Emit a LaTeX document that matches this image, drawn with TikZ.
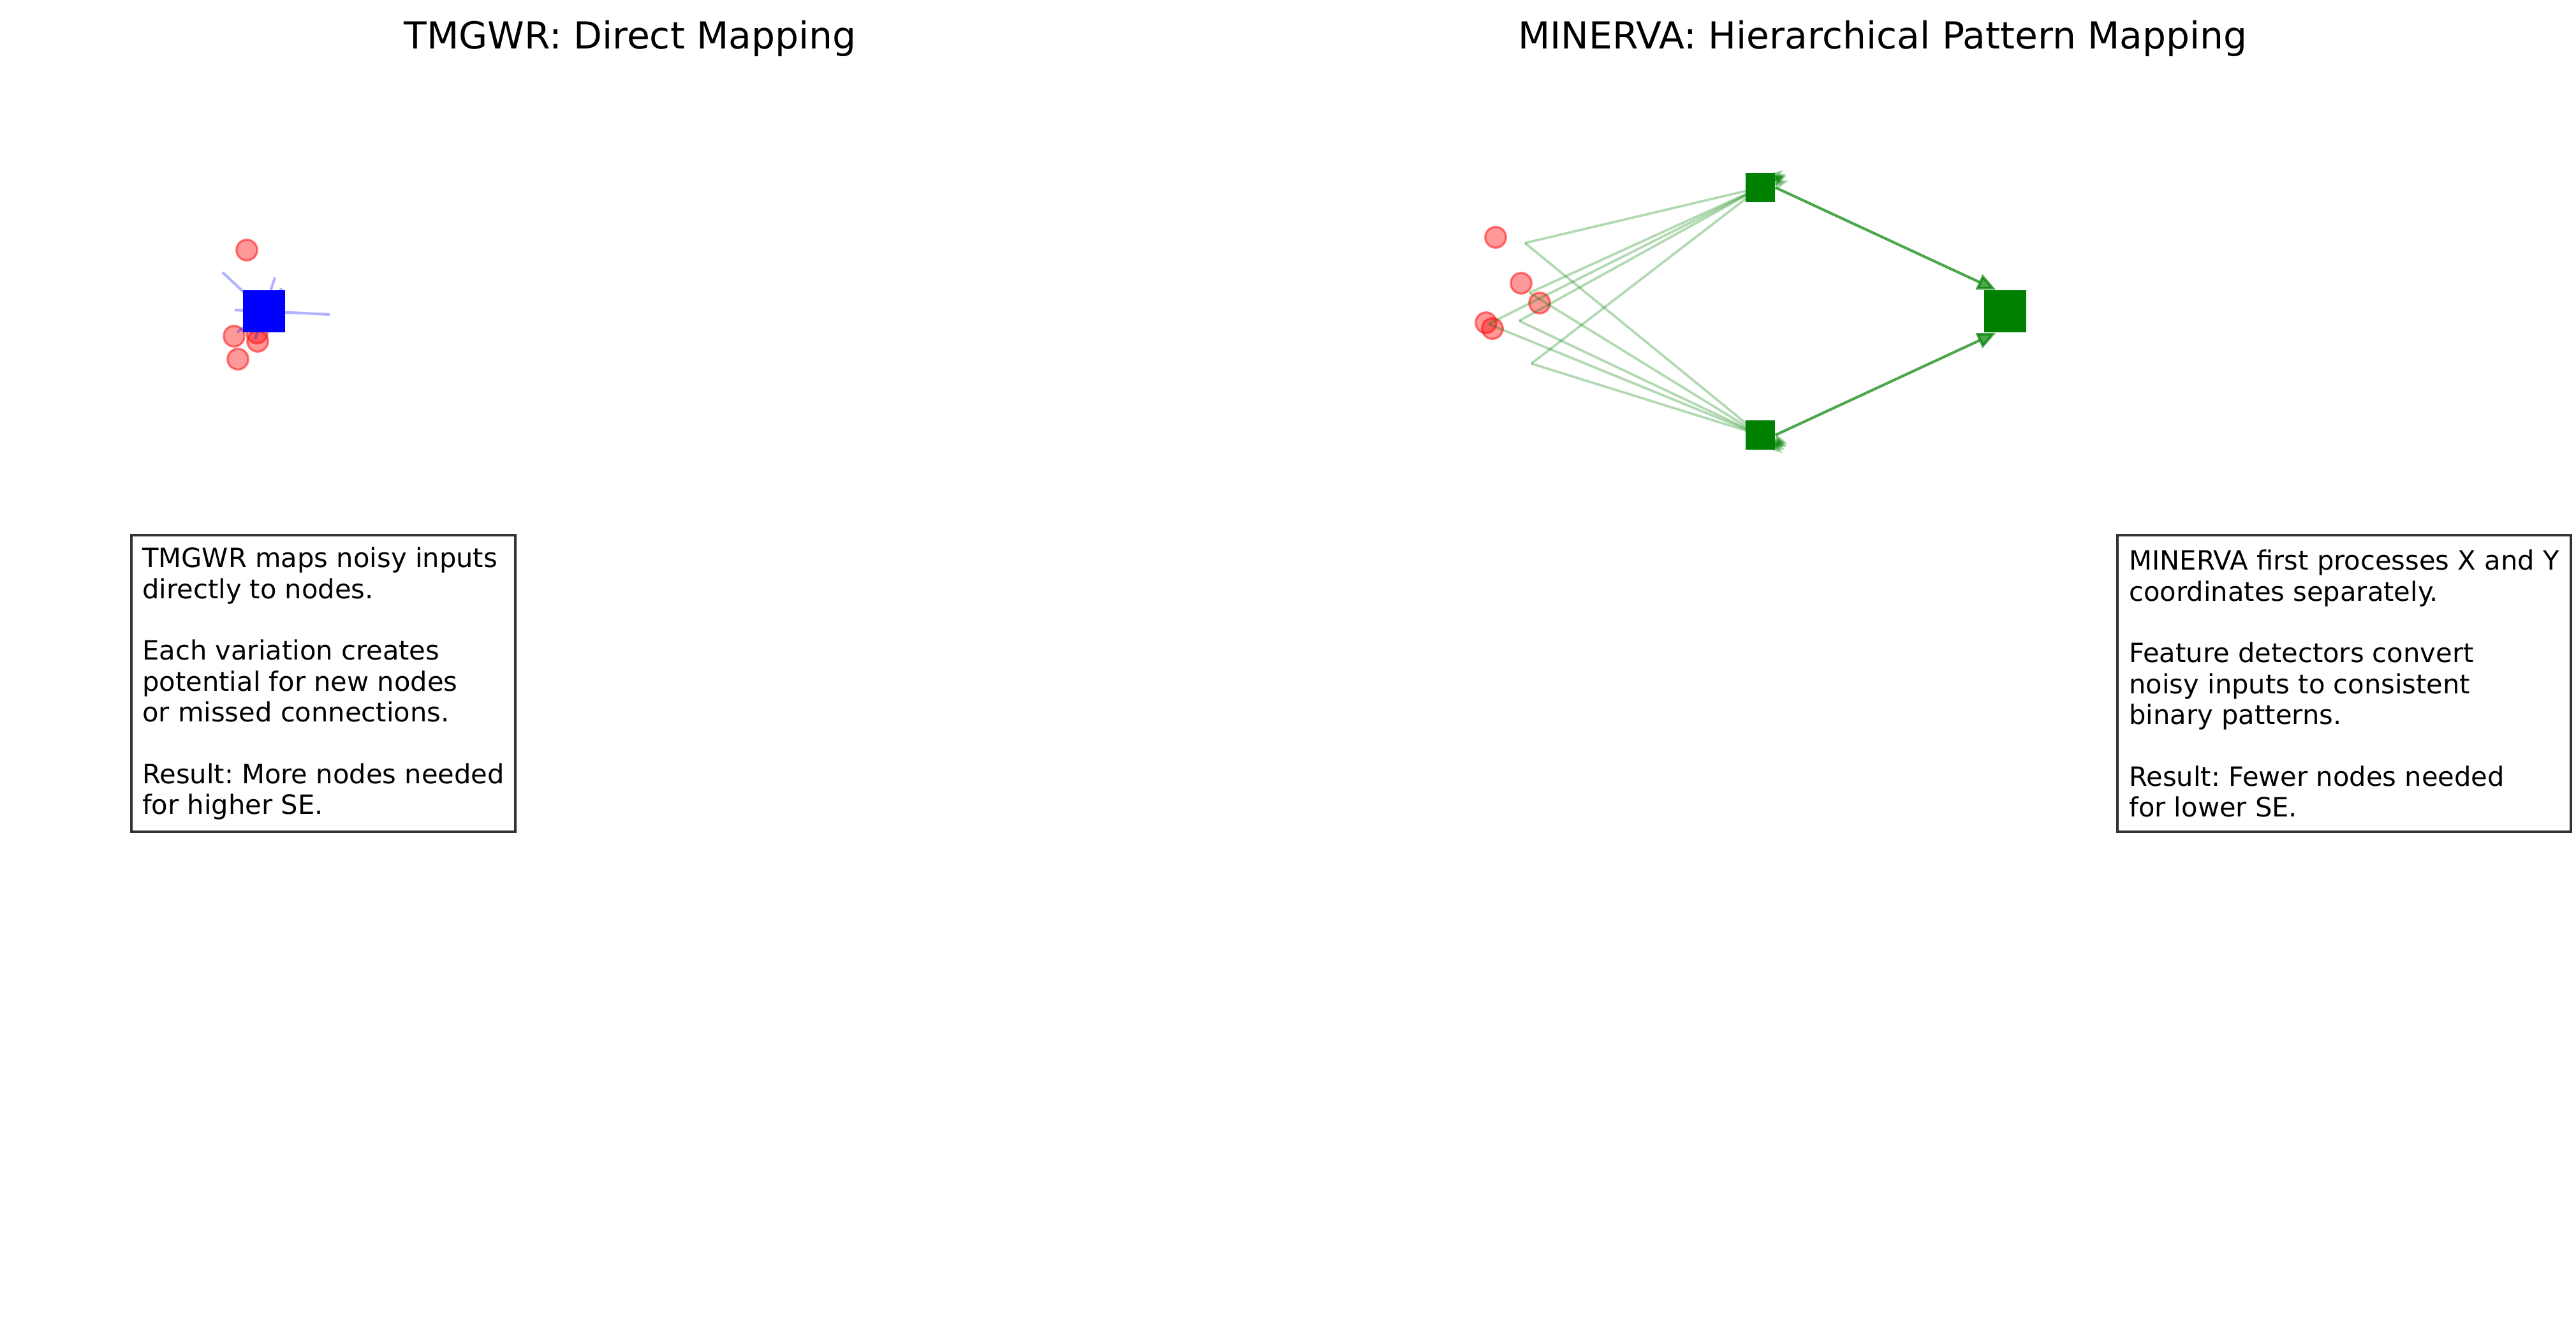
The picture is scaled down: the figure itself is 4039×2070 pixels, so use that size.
\documentclass[tikz,border=0pt]{standalone}
\usepackage{fontspec}
\setmainfont{DejaVu Sans}
\frenchspacing
\usepackage{tikz}
\usetikzlibrary{arrows.meta}
\usetikzlibrary{positioning}
\definecolor{mplgreen}{RGB}{0,128,0}
\tikzset{
    noisy/.style={
           circle,
           draw=red, draw opacity=0.5, line width=0.8pt,
           fill=red, fill opacity=0.4,
           minimum size=7.8pt, inner sep=0pt,
           },
    tnode/.style={
           rectangle, fill=blue,
           minimum size=15.8pt, inner sep=0pt,
           },
    det/.style={
           rectangle, fill=mplgreen,
           minimum size=11pt, inner sep=0pt,
           },
    outnode/.style={
           rectangle, fill=mplgreen,
           minimum size=15.8pt, inner sep=0pt,
           },
    tlink/.style={blue, opacity=0.3, line width=1pt},
    feed/.style={mplgreen, opacity=0.3, line width=0.9pt,
           -{Stealth[length=5.5pt,width=4.5pt]}, shorten >=-10.8pt},
    detarrow/.style={mplgreen, opacity=0.7, line width=1pt,
           -{Triangle[length=7pt,width=6pt]}},
    heading/.style={anchor=base, font=\fontsize{14}{16.8}\selectfont},
    note/.style={draw=black!80, line width=1pt, align=left,
           font=\fontsize{10}{11.6}\selectfont,
           minimum height=111.6pt, inner sep=0pt, anchor=north west},
}

\begin{document}
\begin{tikzpicture}[x=0.24pt, y=-0.24pt]
\useasboundingbox (0,0) rectangle (4039,2070);

% titles
\node[heading] (ltitle) at (988,76) {TMGWR: Direct Mapping};
\node[heading] (rtitle) at (2952,76) {MINERVA: Hierarchical Pattern Mapping};

% TMGWR side
\node[noisy] (n1) at (387,392) {};
\node[noisy] (n2) at (403,522) {};
\node[noisy] (n3) at (367,527) {};
\node[noisy] (n4) at (404,535) {};
\node[noisy] (n5) at (373,563) {};
\coordinate (tc) at (414,488);
\coordinate (ta) at (349,427);
\coordinate (tb) at (431,435);
\coordinate (td) at (442,452);
\coordinate (te) at (368,486);
\coordinate (tf) at (517,493);
\coordinate (tg) at (372,521);
\coordinate (th) at (400,532);
\draw[tlink] (tc) -- (ta);
\draw[tlink] (tc) -- (tb);
\draw[tlink] (tc) -- (td);
\draw[tlink] (tc) -- (te);
\draw[tlink] (tc) -- (tf);
\draw[tlink] (tc) -- (tg);
\draw[tlink] (tc) -- (th);
\node[tnode] (tmgwr) at (tc) {};

% MINERVA side
\node[noisy] (m1) at (2345,372) {};
\node[noisy] (m2) at (2385,444) {};
\node[noisy] (m3) at (2414,475) {};
\node[noisy] (m4) at (2330,506) {};
\node[noisy] (m5) at (2340,515) {};
\coordinate (f1) at (2391,381);
\coordinate (f2) at (2398,459);
\coordinate (f3) at (2334,508);
\coordinate (f4) at (2382,503);
\coordinate (f5) at (2401,570);
\coordinate (xc) at (2760,294);
\coordinate (yc) at (2760,682);
\draw[feed] (f1) -- (xc);
\draw[feed] (f2) -- (xc);
\draw[feed] (f3) -- (xc);
\draw[feed] (f4) -- (xc);
\draw[feed] (f5) -- (xc);
\draw[feed] (f1) -- (yc);
\draw[feed] (f2) -- (yc);
\draw[feed] (f3) -- (yc);
\draw[feed] (f4) -- (yc);
\draw[feed] (f5) -- (yc);
\node[det] (xdet) at (xc) {};
\node[det] (ydet) at (yc) {};
\node[outnode] (out) at (3144,488) {};
\draw[detarrow] (xdet.east) -- ([xshift=4.6pt]out.north west);
\draw[detarrow] (ydet.east) -- ([xshift=4.6pt]out.south west);

% notes
\node[note, minimum width=144.5pt] (lnote) at (204,837) {TMGWR maps noisy inputs\\
directly to nodes.\\[11.6pt]
Each variation creates\\
potential for new nodes\\
or missed connections.\\[11.6pt]
Result: More nodes needed\\
for higher SE.};
\node[note, minimum width=170.6pt] (rnote) at (3318,837) {MINERVA first processes X and Y\\
coordinates separately.\\[11.6pt]
Feature detectors convert\\
noisy inputs to consistent\\
binary patterns.\\[11.6pt]
Result: Fewer nodes needed\\
for lower SE.};
\end{tikzpicture}
\end{document}
